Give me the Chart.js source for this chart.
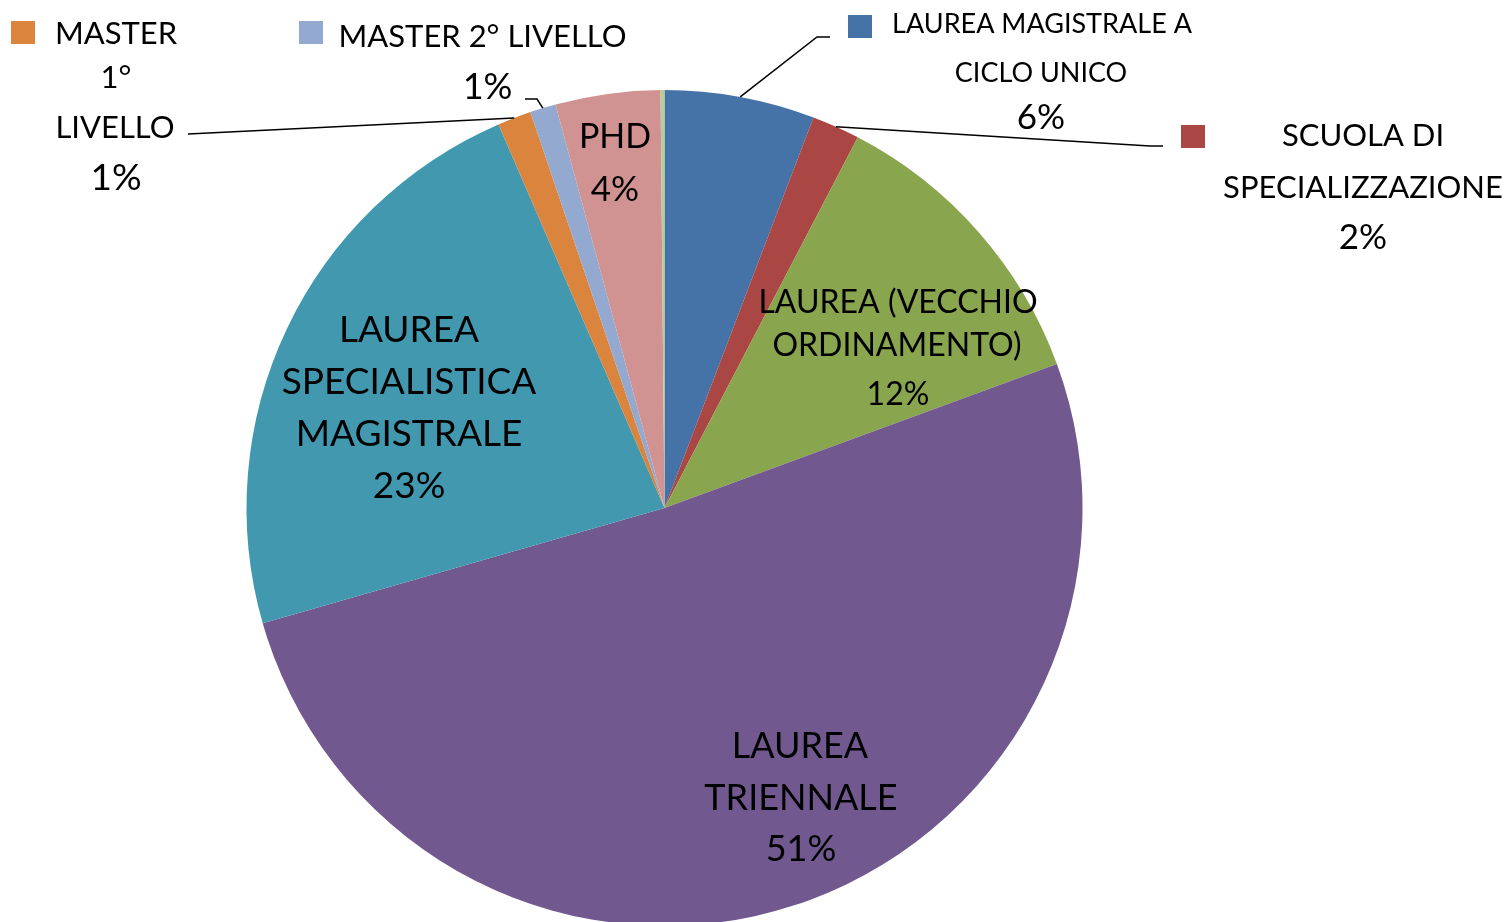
<!DOCTYPE html>
<html>
<head>
<meta charset="utf-8">
<script src="https://cdn.jsdelivr.net/npm/chart.js@4/dist/chart.umd.min.js"></script>
<style>
html,body{margin:0;padding:0;background:#fff;overflow:hidden;}
canvas{display:block;}
</style>
</head>
<body>
<canvas id="c" width="1505" height="930"></canvas>
<script>
// ---- data ----
const categories = [
  "LAUREA MAGISTRALE A CICLO UNICO",
  "SCUOLA DI SPECIALIZZAZIONE",
  "LAUREA (VECCHIO ORDINAMENTO)",
  "LAUREA TRIENNALE",
  "LAUREA SPECIALISTICA MAGISTRALE",
  "MASTER 1° LIVELLO",
  "MASTER 2° LIVELLO",
  "PHD",
  "ALTRO"
];
const shares = [5.8, 1.85, 11.75, 51.15, 22.95, 1.3, 1.0, 4.05, 0.15];
const sliceColors = ["#4572A7", "#AA4643", "#89A54E", "#71588F", "#4198AF", "#DB843D", "#93A9CF", "#D19392", "#B9CD96"];

// ---- label layout (positions / sizes, separate from the data) ----
const labelLayout = [
  {words:[3,2], lines:[[1042,23.5,27],[1041,72,27],[1041,116,35]], key:[848,15], elbow:[[817,37],[830,37]]},
  {words:[2,1], lines:[[1363,134.5,31],[1363,186.5,31],[1363,236,35]], key:[1181,125], elbow:[[1150,146],[1163,146]]},
  {words:[2,1], lines:[[898,301.5,32],[897,345,32],[898,393.5,32]]},
  {words:[1,1], lines:[[800,745.5,36],[801,797.5,36],[801,848,36]]},
  {words:[1,1,1], lines:[[409,329,37],[409,381,37],[409,433,37],[409,485,37]]},
  {words:[1,1,1], lines:[[116,32.5,31],[116,76.5,31],[115,126.5,31],[116,177,37]], key:[11,21], elbow:[[188,134]]},
  {words:[3], lines:[[482.5,36,31],[487.5,86.5,36]], key:[299,21], elbow:[[537,99],[525,99]]},
  {words:[1], lines:[[615,135.5,34],[615,188,35]]},
  null
];

const FONT = "Lato";
const CAP = 0.7165;

const labelPlugin = {
  id: 'excelLabels',
  afterDraw(chart) {
    const ctx = chart.ctx;
    const meta = chart.getDatasetMeta(0);
    const total = shares.reduce((a,b)=>a+b,0);
    ctx.save();
    labelLayout.forEach((lay, i) => {
      if (!lay) return;
      const words = categories[i].split(' ');
      const texts = [];
      let p = 0;
      lay.words.forEach(n => { texts.push(words.slice(p, p+n).join(' ')); p += n; });
      texts.push(Math.round(shares[i] / total * 100) + '%');
      // leader line
      if (lay.elbow) {
        const a = meta.data[i].getProps(['x','y','startAngle','endAngle','outerRadius'], true);
        const mid = (a.startAngle + a.endAngle) / 2;
        const ax = a.x + Math.cos(mid) * a.outerRadius;
        const ay = a.y + Math.sin(mid) * a.outerRadius;
        ctx.beginPath();
        ctx.moveTo(ax, ay);
        lay.elbow.forEach(pt => ctx.lineTo(pt[0], pt[1]));
        ctx.strokeStyle = '#000';
        ctx.lineWidth = 1.5;
        ctx.stroke();
      }
      // legend key
      if (lay.key) {
        ctx.fillStyle = sliceColors[i];
        ctx.fillRect(lay.key[0], lay.key[1], 24, 23);
      }
      // text
      ctx.fillStyle = '#000';
      ctx.textAlign = 'center';
      ctx.textBaseline = 'alphabetic';
      texts.forEach((t, k) => {
        const [x, y, s] = lay.lines[k];
        ctx.font = s + 'px ' + FONT;
        ctx.fillText(t, x, y + s * CAP / 2);
      });
    });
    ctx.restore();
  }
};

new Chart(document.getElementById('c'), {
  type: 'pie',
  data: {
    labels: categories,
    datasets: [{
      data: shares,
      backgroundColor: sliceColors,
      borderWidth: 0,
      hoverOffset: 0
    }]
  },
  options: {
    responsive: false,
    animation: false,
    devicePixelRatio: 1,
    layout: { padding: { left: 246, right: 422, top: 90, bottom: 4 } },
    plugins: { legend: { display: false }, tooltip: { enabled: false } }
  },
  plugins: [labelPlugin]
});
</script>
</body>
</html>
